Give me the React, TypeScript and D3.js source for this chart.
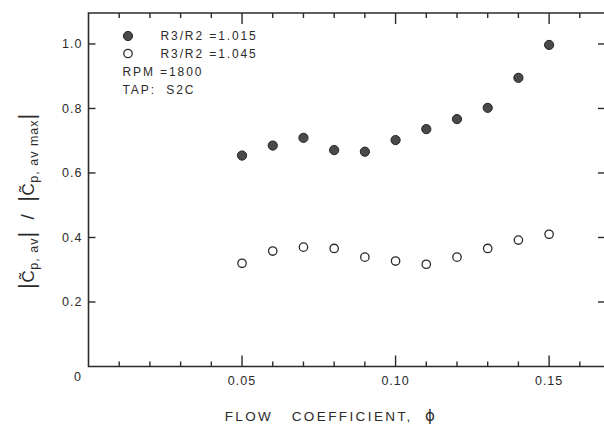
import React from "react";
import * as d3 from "d3";

const phi = [0.05, 0.06, 0.07, 0.08, 0.09, 0.1, 0.11, 0.12, 0.13, 0.14, 0.15];
const ratio1015 = [0.654, 0.685, 0.709, 0.671, 0.666, 0.702, 0.736, 0.767, 0.802, 0.895, 0.997];
const ratio1045 = [0.32, 0.358, 0.37, 0.366, 0.339, 0.327, 0.317, 0.339, 0.366, 0.392, 0.41];
const xTickValues = [0.01, 0.02, 0.03, 0.04, 0.05, 0.06, 0.07, 0.08, 0.09, 0.1, 0.11, 0.12, 0.13, 0.14, 0.15, 0.16];
const xTickLabels = [
  { v: 0.05, t: "0.05" },
  { v: 0.1, t: "0.10" },
  { v: 0.15, t: "0.15" },
];
const yTickValues = [0.2, 0.4, 0.6, 0.8, 1.0];
const yTickLabels = ["0.2", "0.4", "0.6", "0.8", "1.0"];
const legendLines = ["R3/R2 =1.015", "R3/R2 =1.045", "RPM =1800", "TAP:  S2C"];

const W = 604;
const H = 425;
const ink = "#2b2b2b";
const font = "'Liberation Sans', Arial, sans-serif";

export default function App() {
  const x = d3.scaleLinear().domain([0, 0.1682]).range([88.5, 605]);
  const y = d3.scaleLinear().domain([0, 1.096]).range([366.5, 13]);
  const [x0, x1] = x.range();
  const [y0, y1] = y.range();
  const isMajor = (v: number) => Math.abs(v * 100 - Math.round(v * 20) * 5) < 1e-6;

  return (
    <svg width={W} height={H} style={{ position: "absolute", left: 0, top: 0, background: "#fff" }}>
      <rect x={0} y={0} width={W} height={H} fill="#fff" />
      {/* frame */}
      <path
        d={`M${x1},${y1} H${x0} V${y0} H${x1}`}
        fill="none"
        stroke={ink}
        strokeWidth={1.6}
      />
      <line x1={x1} x2={x1} y1={y1} y2={y0} stroke={ink} strokeWidth={1.6} />
      {/* x ticks bottom and top */}
      {xTickValues.map((v) => {
        const len = isMajor(v) ? 11 : 5;
        return (
          <g key={"xt" + v}>
            <line x1={x(v)} x2={x(v)} y1={y0} y2={y0 - len} stroke={ink} strokeWidth={1.4} />
            <line x1={x(v)} x2={x(v)} y1={y1} y2={y1 + len} stroke={ink} strokeWidth={1.4} />
          </g>
        );
      })}
      {/* y ticks left and right */}
      {yTickValues.map((v) => (
        <g key={"yt" + v}>
          <line x1={x0} x2={x0 + 7} y1={y(v)} y2={y(v)} stroke={ink} strokeWidth={1.4} />
          <line x1={x1} x2={x1 - 7} y1={y(v)} y2={y(v)} stroke={ink} strokeWidth={1.4} />
        </g>
      ))}
      {/* y tick labels */}
      {yTickValues.map((v, i) => (
        <text
          key={"yl" + v}
          x={x0 - 6}
          y={y(v)}
          dy="0.35em"
          textAnchor="end"
          fontFamily={font}
          fontSize={12.5}
          letterSpacing={1}
          fill={ink}
        >
          {yTickLabels[i]}
        </text>
      ))}
      <text x={x0 - 11} y={y0 + 14} textAnchor="middle" fontFamily={font} fontSize={12.5} fill={ink}>
        0
      </text>
      {/* x tick labels */}
      {xTickLabels.map((d) => (
        <text
          key={"xl" + d.v}
          x={x(d.v)}
          y={y0 + 18}
          textAnchor="middle"
          fontFamily={font}
          fontSize={12.5}
          letterSpacing={1}
          fill={ink}
        >
          {d.t}
        </text>
      ))}
      {/* axis titles */}
      <text
        x={331}
        y={421}
        textAnchor="middle"
        fontFamily={font}
        fontSize={13.5}
        letterSpacing={2.4}
        fill={ink}
        style={{ whiteSpace: "pre" }}
      >
        <tspan>{"FLOW   COEFFICIENT,  "}</tspan>
        <tspan fontFamily="'DejaVu Sans', sans-serif" fontSize={15}>{"\u03D5"}</tspan>
      </text>
      <text
        transform={`translate(34,201) rotate(-90)`}
        textAnchor="middle"
        fontFamily={font}
        fontSize={17}
        fill={ink}
        letterSpacing={0.6}
        style={{ whiteSpace: "pre" }}
      >
        <tspan fontSize={22}>|</tspan>
        <tspan>{"C\u0303"}</tspan>
        <tspan fontSize={12.5} dy={4} letterSpacing={1}>p, av</tspan>
        <tspan fontSize={22} dy={-4}>|</tspan>
        <tspan fontSize={19}>{"  /  "}</tspan>
        <tspan fontSize={22}>|</tspan>
        <tspan>{"C\u0303"}</tspan>
        <tspan fontSize={12.5} dy={4} letterSpacing={1}>p, av max</tspan>
        <tspan fontSize={22} dy={-4}>|</tspan>
      </text>
      {/* data */}
      {phi.map((p, i) => (
        <circle
          key={"f" + p}
          cx={x(p)}
          cy={y(ratio1015[i])}
          r={4.6}
          fill="#4a4a4a"
          stroke="#222"
          strokeWidth={1}
        />
      ))}
      {phi.map((p, i) => (
        <circle
          key={"o" + p}
          cx={x(p)}
          cy={y(ratio1045[i])}
          r={4.2}
          fill="#fff"
          stroke={ink}
          strokeWidth={1.3}
        />
      ))}
      {/* legend */}
      <circle cx={128} cy={36} r={4.6} fill="#4a4a4a" stroke="#222" strokeWidth={1} />
      <circle cx={128} cy={53.5} r={4.2} fill="#fff" stroke={ink} strokeWidth={1.3} />
      {legendLines.map((t, i) => (
        <text
          key={"lg" + i}
          x={i < 2 ? 160.5 : 122.5}
          y={[36, 53.5, 71.5, 90][i]}
          dy="0.36em"
          fontFamily={font}
          fontSize={12}
          letterSpacing={1.9}
          fill={ink}
          style={{ whiteSpace: "pre" }}
        >
          {t}
        </text>
      ))}
    </svg>
  );
}
